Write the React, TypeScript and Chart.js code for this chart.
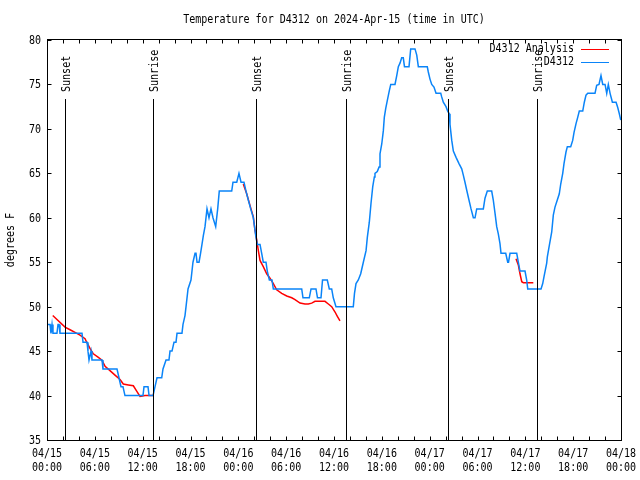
import React, { useEffect, useRef } from 'react';
import { Chart, registerables } from 'chart.js';

Chart.register(...registerables);

// ---- data (hours since 04/15 00:00 UTC, degrees F) ----
const blueHours = [
  0, 0.38, 0.5, 0.63, 0.75, 1.25, 1.38, 1.51, 1.63, 4.39, 4.52, 5.02, 5.14, 5.27, 5.52, 5.64, 6.9, 7.02, 8.78, 9.03,
  9.28, 9.53, 9.78, 12.04, 12.17, 12.67, 12.8, 13.3, 13.55, 13.8, 14.39, 14.55, 14.93, 15.3, 15.43, 15.68, 15.93,
  16.18, 16.31, 16.93, 17.06, 17.31, 17.44, 17.69, 18.06, 18.31, 18.57, 18.69, 18.82, 19.07, 19.26, 19.44, 19.61,
  19.82, 20.07, 20.32, 20.57, 20.82, 21.16, 21.41, 21.61, 23.17, 23.33, 23.8, 24.08, 24.34, 24.71, 24.96, 25.25,
  25.55, 25.88, 26.18, 26.38, 26.72, 26.93, 27.13, 27.47, 27.63, 27.89, 28.22, 28.39, 28.6, 31.95, 32.11, 32.9,
  33.12, 33.74, 33.93, 34.37, 34.56, 35.16, 35.41, 35.71, 35.91, 36.25, 38.42, 38.57, 38.76, 39.05, 39.35, 39.68,
  40.02, 40.18, 40.43, 40.64, 40.86, 41.06, 41.14, 41.43, 41.65, 41.77, 41.99, 42.19, 42.31, 42.49, 42.69, 42.94,
  43.12, 43.65, 43.87, 44.07, 44.28, 44.49, 44.69, 44.84, 45.41, 45.62, 46.16, 46.38, 46.58, 47.7, 47.83, 48.04,
  48.26, 48.54, 48.8, 49.39, 49.51, 49.71, 50.05, 50.26, 50.46, 50.55, 50.77, 50.97, 51.31, 51.68, 52.02, 52.22,
  52.43, 52.65, 52.93, 53.19, 53.48, 53.69, 53.9, 54.73, 54.94, 55.23, 55.78, 55.98, 56.2, 56.41, 56.61, 56.82,
  56.95, 57.54, 57.79, 57.89, 58.08, 58.92, 59.12, 59.33, 59.96, 60.17, 60.3, 61.97, 62.18, 62.35, 62.68, 62.76,
  63.01, 63.31, 63.51, 63.72, 64.01, 64.26, 64.44, 64.69, 64.85, 65.1, 65.27, 65.69, 65.94, 66.11, 66.36, 66.57,
  66.77, 67.2, 67.4, 67.61, 67.83, 68.74, 68.95, 69.24, 69.49, 69.71, 70.0, 70.21, 70.41, 70.63, 70.92, 71.38,
  71.59, 71.79, 71.97,
];
const blueTemps = [
  48, 48, 47, 48, 47, 47, 48, 48, 47, 47, 46, 46, 45, 44, 45, 44, 44, 43, 43, 42,
  41, 41, 40, 40, 41, 41, 40, 40, 41, 42, 42, 43, 44, 44, 45, 45, 46,
  46, 47, 47, 48, 49, 50, 52, 53, 55, 56, 56, 55, 55, 56, 57, 58,
  59, 61, 60, 61, 60, 59, 61, 63, 63, 64, 64, 65, 64, 64, 63, 62,
  61, 60, 58, 57, 57, 56, 55, 55, 54, 53, 53, 52, 52, 52, 51, 51,
  52, 52, 51, 51, 53, 53, 52, 52, 51, 50, 50, 51.5, 52.6, 53, 53.7, 55,
  56.3, 57.8, 59.5, 61.6, 63.5, 64.6, 65, 65.2, 65.7, 67.2, 68.3, 69.8, 71.3, 72.3, 73.2, 74.3,
  75, 75, 76, 77, 77.4, 78, 78, 77, 77, 79, 79, 78.3, 77, 77, 76.4, 75.6,
  75, 74.7, 74, 74, 73.6, 73, 72.5, 72, 71.7, 70.5, 68.7, 67.5, 66.8, 66.1, 65.5, 64.8,
  64, 63.1, 62, 61, 60, 60, 61, 61, 62.2, 63, 63, 62, 60.5, 59, 58.2, 57.1,
  56, 56, 55, 55, 56, 56, 55, 54, 54, 53, 52, 52, 52.6, 53.4, 54.9, 55.6,
  56.9, 58.4, 60.3, 61.2, 62, 62.7, 63.8, 65, 66.1, 67.4, 68, 68, 68.7, 69.6, 70.6, 71.3,
  72, 72, 73, 73.8, 74, 74, 74.9, 75, 76, 75, 75, 74, 75, 74, 73, 73,
  72.4, 71.7, 71,
];

const redHours = [
  0.72, 2.26, 2.89, 3.51, 4.14, 4.77, 4.98, 5.39, 5.81, 6.44, 6.86, 7.28, 7.9, 8.53, 9.16, 9.57, 10.2, 10.83,
  11.25, 11.67, 12.29, 13.33, 18.0,
  24.62, 25.05, 25.46, 25.88, 26.09, 26.31, 26.51, 26.72, 27.13, 27.56, 27.97, 28.39, 28.81, 29.44, 30.07,
  30.7, 31.11, 31.74, 32.36, 32.78, 33.2, 33.62, 34.87, 35.29, 35.71, 36.13, 36.42, 36.75, 45.0,
  58.83, 59.12, 59.33, 59.55, 59.75, 61.0,
];
const redTemps = [
  49, 47.7, 47.4, 47.1, 46.8, 46.4, 46, 45.3, 44.7, 44.3, 44, 43.3, 42.8, 42.3, 41.8, 41.3, 41.2, 41.1,
  40.5, 39.9, 40, 40, null,
  63.8, 62.7, 61.4, 60.1, 58.6, 57.5, 56.3, 55.2, 54.5, 53.7, 53.2, 52.6, 51.9, 51.5, 51.2,
  51, 50.8, 50.4, 50.3, 50.3, 50.4, 50.6, 50.6, 50.3, 50, 49.4, 48.9, 48.4, null,
  55.4, 54.7, 53.7, 52.8, 52.7, 52.7,
];

const sunHours = [2.26, 13.32, 26.25, 37.47, 50.33, 61.43];
const sunLabels = ['Sunset', 'Sunrise', 'Sunset', 'Sunrise', 'Sunset', 'Sunrise'];

const yTicks = [35, 40, 45, 50, 55, 60, 65, 70, 75, 80];
const xTickHours = [0, 6, 12, 18, 24, 30, 36, 42, 48, 54, 60, 66, 72];
const xTickDates = ['04/15', '04/15', '04/15', '04/15', '04/16', '04/16', '04/16', '04/16', '04/17', '04/17', '04/17', '04/17', '04/18'];
const xTickTimes = ['00:00', '06:00', '12:00', '18:00', '00:00', '06:00', '12:00', '18:00', '00:00', '06:00', '12:00', '18:00', '00:00'];
const xMinorStep = 2;

const titleText = 'Temperature for D4312 on 2024-Apr-15 (time in UTC)';
const yTitle = 'degrees F';
const seriesNames = ['D4312 Analysis', 'D4312'];
const RED = '#ff0000';
const BLUE = '#0a84f8';
const FONT = '12px "DejaVu Sans Mono", monospace';
const SX = 0.835;

function txt(ctx: CanvasRenderingContext2D, s: string, x: number, y: number) {
  ctx.save();
  ctx.translate(x, y);
  ctx.scale(SX, 1);
  ctx.fillText(s, 0, 0);
  ctx.restore();
}

const overlay = {
  id: 'overlay',
  afterDatasetsDraw(chart: any) {
    const ctx = chart.ctx;
    const xs = chart.scales.x;
    const a = chart.chartArea;
    ctx.save();
    ctx.strokeStyle = '#000';
    ctx.fillStyle = '#000';
    ctx.lineWidth = 1;
    ctx.font = FONT;
    sunHours.forEach((h, i) => {
      const px = Math.round(xs.getPixelForValue(h)) + 0.5;
      ctx.beginPath();
      ctx.moveTo(px, 99);
      ctx.lineTo(px, a.bottom);
      ctx.stroke();
      ctx.save();
      ctx.translate(px + 1.5, 92);
      ctx.rotate(-Math.PI / 2);
      ctx.textAlign = 'left';
      ctx.textBaseline = 'middle';
      txt(ctx, sunLabels[i], 0, 0);
      ctx.restore();
    });
    ctx.restore();
  },
  afterDraw(chart: any) {
    const ctx = chart.ctx;
    const xs = chart.scales.x;
    const ys = chart.scales.y;
    const a = chart.chartArea;
    ctx.save();
    ctx.strokeStyle = '#000';
    ctx.fillStyle = '#000';
    ctx.lineWidth = 1;
    ctx.font = FONT;
    const L = Math.round(a.left) + 0.5;
    const R = Math.round(a.right) + 0.5;
    const T = Math.round(a.top) - 0.5;
    const B = Math.round(a.bottom) + 0.5;
    ctx.strokeRect(L, T, R - L, B - T);
    // y ticks
    ctx.textAlign = 'right';
    ctx.textBaseline = 'middle';
    yTicks.forEach((v) => {
      const py = Math.round(ys.getPixelForValue(v)) + 0.5;
      ctx.beginPath();
      ctx.moveTo(L, py); ctx.lineTo(L + 4, py);
      ctx.moveTo(R, py); ctx.lineTo(R - 4, py);
      ctx.stroke();
      txt(ctx, String(v), 41, py);
    });
    // x ticks
    for (let h = xs.min; h <= xs.max; h += xMinorStep) {
      const px = Math.round(xs.getPixelForValue(h)) + 0.5;
      ctx.beginPath();
      ctx.moveTo(px, B); ctx.lineTo(px, B - 4);
      ctx.moveTo(px, T); ctx.lineTo(px, T + 4);
      ctx.stroke();
    }
    ctx.textAlign = 'center';
    xTickHours.forEach((h, i) => {
      const px = xs.getPixelForValue(h);
      txt(ctx, xTickDates[i], px, 454);
      txt(ctx, xTickTimes[i], px, 468);
    });
    // title
    txt(ctx, titleText, (a.left + a.right) / 2, 20);
    // y title
    ctx.save();
    ctx.translate(11, (a.top + a.bottom) / 2);
    ctx.rotate(-Math.PI / 2);
    ctx.textAlign = 'center';
    txt(ctx, yTitle, 0, 0);
    ctx.restore();
    // legend
    ctx.textAlign = 'right';
    const legendColors = [RED, BLUE];
    seriesNames.forEach((n, i) => {
      const y = 49 + i * 13;
      ctx.fillStyle = '#000';
      txt(ctx, n, 574, y);
      ctx.strokeStyle = legendColors[i];
      ctx.beginPath();
      ctx.moveTo(581, y + 0.5);
      ctx.lineTo(609, y + 0.5);
      ctx.stroke();
    });
    ctx.restore();
  },
};

export default function App() {
  const ref = useRef<HTMLCanvasElement | null>(null);
  useEffect(() => {
    if (!ref.current) return;
    const chart = new Chart(ref.current, {
      type: 'line',
      data: {
        datasets: [
          {
            label: seriesNames[1],
            data: blueHours.map((h, i) => ({ x: h, y: blueTemps[i] })),
            borderColor: BLUE,
            borderWidth: 1.5,
            pointRadius: 0,
            tension: 0,
            fill: false,
          },
          {
            label: seriesNames[0],
            data: redHours.map((h, i) => ({ x: h, y: redTemps[i] })),
            borderColor: RED,
            borderWidth: 1.5,
            pointRadius: 0,
            tension: 0,
            fill: false,
            spanGaps: false,
          },
        ],
      },
      options: {
        animation: false,
        responsive: false,
        events: [],
        layout: { padding: { left: 47, right: 19, top: 40, bottom: 40 } },
        plugins: { legend: { display: false }, title: { display: false }, tooltip: { enabled: false } },
        scales: {
          x: { type: 'linear', min: 0, max: 72, display: false },
          y: { type: 'linear', min: 35, max: 80, display: false },
        },
      },
      plugins: [overlay],
    });
    return () => chart.destroy();
  }, []);
  return (
    <div style={{ position: 'absolute', left: 0, top: 0, width: 640, height: 480, background: '#fff' }}>
      <canvas ref={ref} width={640} height={480} />
    </div>
  );
}
